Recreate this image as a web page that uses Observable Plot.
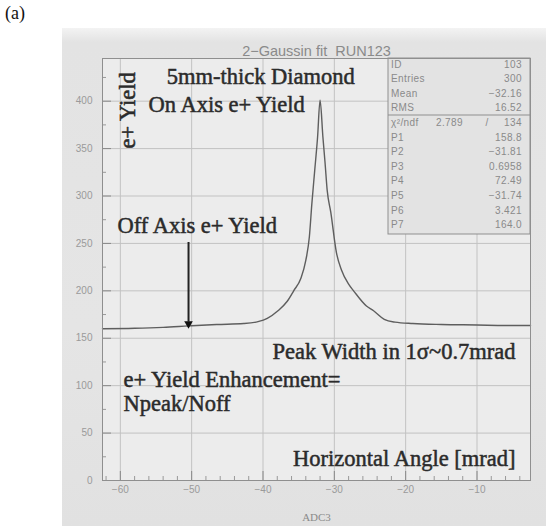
<!DOCTYPE html>
<html>
<head>
<meta charset="utf-8">
<script src="https://cdn.jsdelivr.net/npm/d3@7"></script>
<script src="https://cdn.jsdelivr.net/npm/@observablehq/plot@0.6"></script>
<style>
  body { margin: 0; background: #fff; }
  #wrap { position: relative; width: 559px; height: 526px; overflow: hidden; }
  #photo { position: absolute; left: 62px; top: 28px; width: 484px; height: 498px;
    background: linear-gradient(to bottom, #f3f3f3 0px, #e3e3e3 14px, #e5e5e5 60%, #e1e1e1 100%); }
  #tag { position: absolute; left: 5px; top: 3px; font: 18px "Liberation Serif", serif; color: #111; }
  #chart { position: absolute; left: 0; top: 0; }
</style>
</head>
<body>
<div id="wrap">
  <div id="photo"></div>
  <div id="tag">(a)</div>
  <div id="chart"></div>
</div>
<script>
// Curve
const angle = [-62.5, -58, -54, -50.4, -46.5, -42.7, -40.7, -39.4, -37.9, -36.6, -35.7, -34.7, -34.0, -33.5, -33.15, -32.75, -32.35, -32.0,
               -31.6, -31.3, -31.0, -30.5, -29.7, -29.0, -28.0, -27.3, -25.5, -24.5, -23.0, -21.5, -19, -15, -10, -6, -2.5];
const yieldValues = [160, 160.5, 161.5, 163, 164.5, 165.5, 167.5, 171, 179, 189, 200, 213, 232, 257, 292, 327, 362, 401,
                     362, 335, 306, 283, 240, 222, 207, 200, 184, 179, 170, 167, 165.5, 164.5, 164, 163.5, 163.5];

// Axis ticks
const xTicks = [-60, -50, -40, -30, -20, -10];
const xMinor = [-62, -58, -56, -54, -52, -48, -46, -44, -42, -38, -36, -34, -32, -28, -26, -24, -22, -18, -16, -14, -12, -8, -6, -4];
const yTicks = [0, 50, 100, 150, 200, 250, 300, 350, 400];
const yMinor = [25, 75, 125, 175, 225, 275, 325, 375, 425];

// Stats box
const statLabels = ["ID", "Entries", "Mean", "RMS", "χ²/ndf", "P1", "P2", "P3", "P4", "P5", "P6", "P7"];
const statValues = ["103", "300", "−32.16", "16.52", "134", "158.8", "−31.81", "0.6958", "72.49", "−31.74", "3.421", "164.0"];
const chi2Value = "2.789";

// Annotations (left-aligned and right-aligned)
const notesLeft = [
  {text: "5mm-thick Diamond", x: -53.5, y: 418.6},
  {text: "On Axis e+ Yield", x: -56.05, y: 388.1},
  {text: "Off Axis e+ Yield", x: -60.4, y: 261.5},
  {text: "e+ Yield Enhancement=", x: -59.56, y: 98.1},
  {text: "Npeak/Noff", x: -59.56, y: 73.8}
];
const notesRight = [
  {text: "Peak Width in 1σ~0.7mrad", x: -4.6, y: 128.6},
  {text: "Horizontal Angle [mrad]", x: -4.6, y: 15.8}
];
const arrowX = [-50.44];
const arrowFrom = 251, arrowTo = 167, arrowHead = 165.2;

const data = angle.map((a, i) => ({a, v: yieldValues[i]}));
const serif = "'Liberation Serif', 'DejaVu Serif', serif";
const sans = "'Liberation Sans', Arial, sans-serif";
const frameW = 559 - 102 - 29, frameH = 526 - 58 - 46;
const noteStyle = {fontFamily: serif, fontSize: 22.5, fill: "#2b2b2b", stroke: "#2b2b2b", strokeWidth: 0.5, lineAnchor: "bottom"};

function statsBox(index, scales, values, dims) {
  const right = dims.width - dims.marginRight, top = dims.marginTop;
  const w = 142, h = 176, left = right - w;
  const g = d3.create("svg:g").attr("font-family", sans).attr("font-size", 10).attr("fill", "#8a8a8a")
    .attr("letter-spacing", "0.4px");
  g.append("rect").attr("x", left).attr("y", top).attr("width", w).attr("height", h)
    .attr("fill", "#e3e3e3").attr("stroke", "#8f8f8f").attr("stroke-width", 1);
  g.append("line").attr("x1", left).attr("x2", right).attr("y1", top + 57).attr("y2", top + 57)
    .attr("stroke", "#8f8f8f");
  statLabels.forEach((lab, i) => {
    const cy = top + 6 + i * 14.6;
    g.append("text").attr("x", left + 3).attr("y", cy).attr("dy", "0.35em").attr("text-anchor", "start").text(lab);
    g.append("text").attr("x", right - 8).attr("y", cy).attr("dy", "0.35em").attr("text-anchor", "end").text(statValues[i]);
    if (i === 4) {
      g.append("text").attr("x", left + 75).attr("y", cy).attr("dy", "0.35em").attr("text-anchor", "end").text(chi2Value);
      g.append("text").attr("x", left + 99).attr("y", cy).attr("dy", "0.35em").attr("text-anchor", "middle").text("/");
    }
  });
  return g.node();
}

const chart = Plot.plot({
  width: 559, height: 526,
  marginLeft: 102, marginRight: 29, marginTop: 58, marginBottom: 46,
  x: {domain: [-62.5, -2.5]},
  y: {domain: [0, 445]},
  style: {background: "transparent", fontFamily: sans, overflow: "visible"},
  marks: [
    Plot.frame({fill: "#ececec", stroke: null}),
    Plot.gridX(xTicks, {stroke: "#c2c2c2", strokeOpacity: 1}),
    Plot.gridY(yTicks.filter(d => d > 0), {stroke: "#c2c2c2", strokeOpacity: 1}),
    Plot.tickY(yTicks, {y: d => d, stroke: "#888", insetRight: frameW - 9}),
    Plot.tickY(yMinor, {y: d => d, stroke: "#999", insetRight: frameW - 4}),
    Plot.tickX(xTicks, {x: d => d, stroke: "#888", insetTop: frameH - 9}),
    Plot.tickX(xMinor, {x: d => d, stroke: "#999", insetTop: frameH - 4}),
    statsBox,
    Plot.line(data, {x: "a", y: "v", curve: "monotone-x", stroke: "#5e5e5e", strokeWidth: 1.4}),
    Plot.ruleX(arrowX, {x: d => d, y1: arrowFrom, y2: arrowTo, stroke: "#222", strokeWidth: 2}),
    Plot.dot(arrowX, {x: d => d, y: arrowHead, symbol: "triangle", rotate: 180, r: 3.2, fill: "#111", stroke: null}),
    Plot.text(notesLeft, {x: "x", y: "y", text: "text", textAnchor: "start", ...noteStyle}),
    Plot.text(notesRight, {x: "x", y: "y", text: "text", textAnchor: "end", ...noteStyle}),
    Plot.text(["e+ Yield"], {x: -59.0, y: 390.2, text: d => d, rotate: -90, fontFamily: serif, fontSize: 22.5,
      fill: "#2b2b2b", stroke: "#2b2b2b", strokeWidth: 0.5}),
    Plot.frame({stroke: "#8f8f8f"}),
    Plot.axisY(yTicks, {tickSize: 0, tickPadding: 10, fontSize: 10, fill: "#9a9a9a", label: null,
      fontFamily: sans}),
    Plot.axisX(xTicks, {tickSize: 0, tickPadding: 5, fontSize: 10, fill: "#9a9a9a", label: null,
      fontFamily: sans}),
    Plot.text(["2−Gaussin fit  RUN123"], {frameAnchor: "top", text: d => d, lineAnchor: "bottom", dy: -3,
      fontSize: 14.5, fill: "#8a8a8a", fontFamily: sans}),
    Plot.text(["ADC3"], {frameAnchor: "bottom", text: d => d, lineAnchor: "middle", dy: 37,
      fontSize: 11, fill: "#8a8a8a", fontFamily: serif})
  ]
});
document.getElementById("chart").appendChild(chart);
</script>
</body>
</html>
